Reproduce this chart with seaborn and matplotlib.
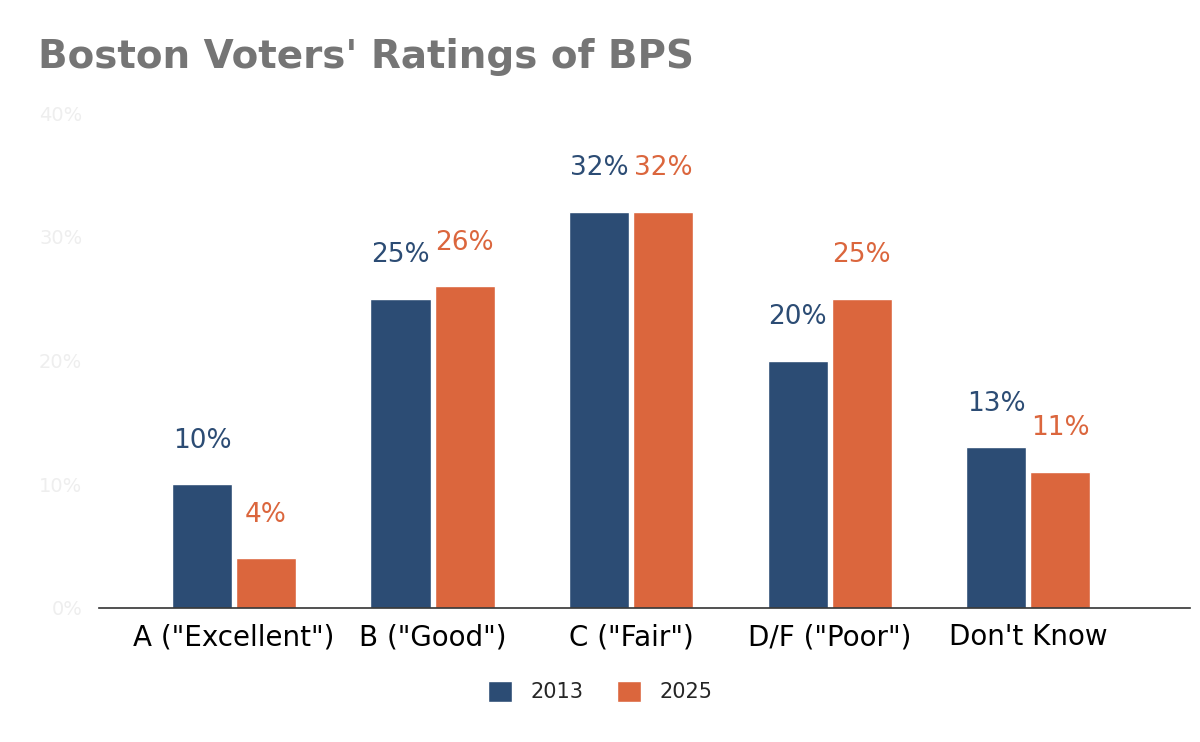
import matplotlib
matplotlib.use("Agg")
import matplotlib.pyplot as plt
import seaborn as sns
import pandas as pd

from matplotlib.ticker import PercentFormatter

categories = ['A ("Excellent")', 'B ("Good")', 'C ("Fair")', 'D/F ("Poor")', "Don't Know"]
years = ["2013", "2025"]
values_2013 = [10, 25, 32, 20, 13]
values_2025 = [4, 26, 32, 25, 11]

COLORS = {"2013": "#2c4c74", "2025": "#db663d"}

df = pd.DataFrame({
    "category": categories * 2,
    "year": [years[0]] * len(categories) + [years[1]] * len(categories),
    "value": values_2013 + values_2025,
})

sns.set_theme(style="white")
plt.rcParams["font.family"] = ["DejaVu Sans"]

fig = plt.figure(figsize=(12, 7.42), dpi=100)
ax = fig.add_axes([0.0825, 0.1806, 0.9095, 0.6671])

sns.barplot(data=df, x="category", y="value", hue="year", palette=COLORS,
            width=0.645, gap=0.06, saturation=1, ax=ax, legend=True)

for container, year in zip(ax.containers, years):
    ax.bar_label(container, labels=[f"{v:.0f}%" for v in container.datavalues],
                 padding=22, color=COLORS[year], fontsize=19)

ax.set_ylim(0, 40)
ax.set_xlim(-0.68, 4.816)
ax.set_yticks([0, 10, 20, 30, 40])
ax.yaxis.set_major_formatter(PercentFormatter(decimals=0))
ax.tick_params(axis="y", colors="#eeeeee", labelsize=14, length=0, pad=12)
ax.tick_params(axis="x", colors="black", labelsize=20, length=0, pad=11)
ax.set_xlabel("")
ax.set_ylabel("")
for side in ["left", "right", "top"]:
    ax.spines[side].set_visible(False)
ax.spines["bottom"].set_color("#333333")
ax.spines["bottom"].set_linewidth(1.2)

# legend centred on the figure, not the axes
handles, labels = ax.get_legend_handles_labels()
ax.get_legend().remove()
fig.legend(handles, labels, loc="center", bbox_to_anchor=(0.5, 0.068), ncol=2, frameon=False,
           fontsize=15, handlelength=1.15, handleheight=1.15, columnspacing=1.6,
           handletextpad=0.9)

fig.text(0.032, 0.908, "Boston Voters' Ratings of BPS", fontsize=28, fontweight="heavy",
         color="#757575", ha="left", va="baseline")

fig.savefig("out.png", dpi=100, facecolor="white")
